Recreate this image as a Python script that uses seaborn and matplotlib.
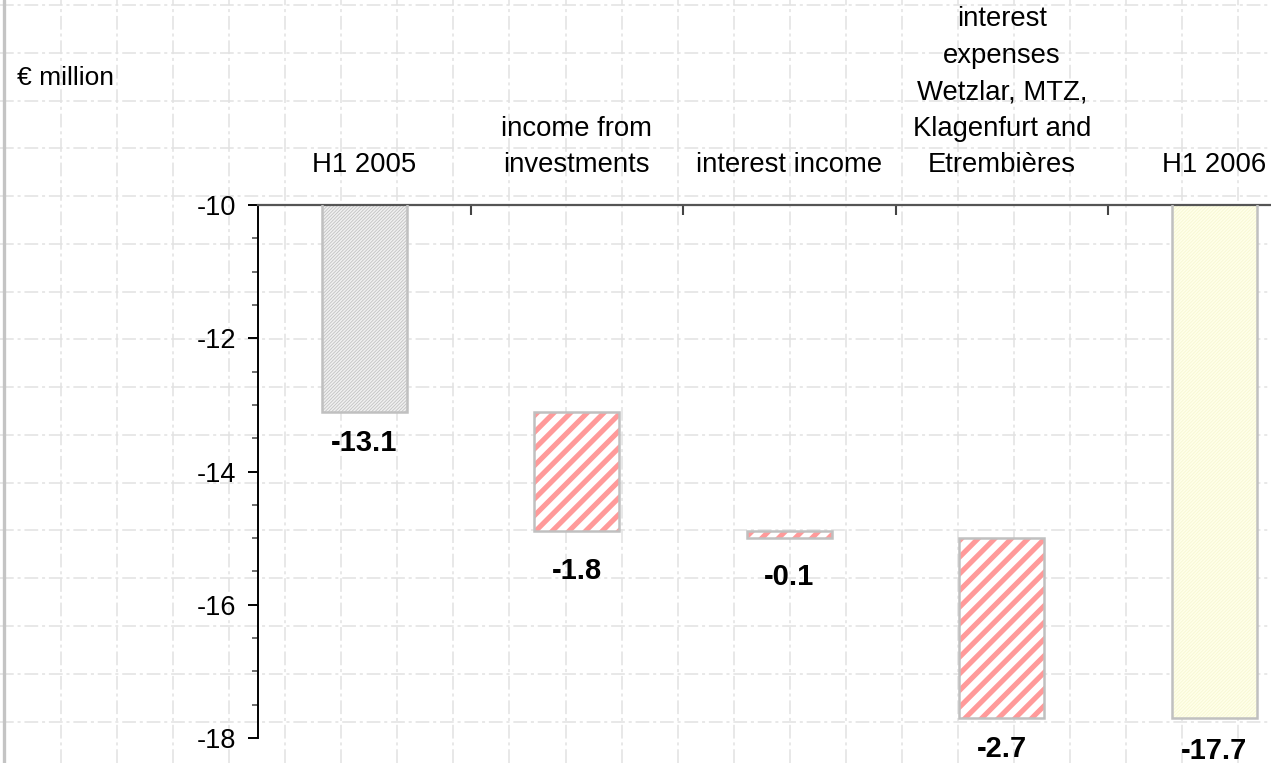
import numpy as np
import pandas as pd
import matplotlib
matplotlib.use("Agg")
import matplotlib.pyplot as plt
from matplotlib.ticker import MultipleLocator, FixedLocator
import seaborn as sns

# ---- data -------------------------------------------------------------
categories = [
    "H1 2005",
    "income from\ninvestments",
    "interest income",
    "interest\nexpenses\nWetzlar, MTZ,\nKlagenfurt and\nEtrembières",
    "H1 2006",
]
changes = [-13.1, -1.8, -0.1, -2.7, -17.7]
kinds = ["total", "delta", "delta", "delta", "total"]
y_ticks = [-18, -16, -14, -12, -10]
unit_label = "€ million"

# ---- style ------------------------------------------------------------
sns.set_theme(style="white")
plt.rcParams["font.family"] = ["Liberation Sans", "DejaVu Sans"]
FS_CAT = 19.8
FS_TICK = 19.5
FS_UNIT = 19
FS_VAL = 21

# totals start at zero, changes start where the running total stands
bottoms = []
running = 0.0
for v, k in zip(changes, kinds):
    if k == "total":
        bottoms.append(0.0)
        running = v
    else:
        bottoms.append(round(running, 2))
        running = round(running + v, 2)

df = pd.DataFrame({"category": categories, "change": changes})

W, H = 1271, 763
fig = plt.figure(figsize=(W / 100, H / 100), dpi=100)
fig.patch.set_facecolor("white")

# sheet grid behind the chart
bg = fig.add_axes([0, 0, 1, 1])
bg.set_xlim(0, W)
bg.set_ylim(H, 0)
bg.axis("off")
grid_style = dict(color="#e2e2e2", lw=1.1, ls=(0, (9, 2.5, 2, 2.5)))
for gx in np.arange(5, W, 56.05):
    bg.axvline(gx, **grid_style)
for gy in np.arange(5, H, 47.77):
    bg.axhline(gy, **grid_style)
bg.axvline(4, color="#c4c4c4", lw=2.4)

# chart area (runs past the right edge of the sheet)
ax = fig.add_axes([258 / W, 1 - 738 / H, 1062.5 / W, 533 / H])
ax.set_facecolor("none")

sns.barplot(data=df, x="category", y="change", bottom=bottoms, width=0.4,
            errorbar=None, ax=ax, color="white", linewidth=0)
fills = list(ax.patches)
sns.barplot(data=df, x="category", y="change", bottom=bottoms, width=0.4,
            errorbar=None, ax=ax, color="white", fill=False, linewidth=1.8)
outlines = [p for p in ax.patches if p not in fills]

bar_styles = [
    dict(face="#f0f0f0", hatch="//////////", hcolor="#c2c2c2", hlw=0.6),
    dict(face="white", hatch="//", hcolor="#ff9a9a", hlw=3.7),
    dict(face="white", hatch="//", hcolor="#ff9a9a", hlw=3.7),
    dict(face="white", hatch="//", hcolor="#ff9a9a", hlw=3.7),
    dict(face="#ffffea", hatch="//////////", hcolor="#f8f8d2", hlw=0.6),
]
for p, st in zip(fills, bar_styles):
    p.set_facecolor(st["face"])
    p.set_edgecolor(st["hcolor"])
    p.set_linewidth(0)
    p.set_hatch(st["hatch"])
    if hasattr(p, "set_hatch_linewidth"):
        p.set_hatch_linewidth(st["hlw"])
for p in outlines:
    p.set_edgecolor("#c0c0c0")
    p.set_facecolor("none")
    p.set_linewidth(1.8)
    p.set_zorder(3)

# value labels under each bar end
label_offsets_px = [31, 40, 39, 31, 33]
for i, (b, v, off) in enumerate(zip(bottoms, changes, label_offsets_px)):
    ax.annotate(f"{v:.1f}", (i, b + v), xytext=(0, -off * 0.72),
                textcoords="offset points", ha="center", va="center",
                fontsize=FS_VAL, fontweight="bold", color="black",
                annotation_clip=False)

# axes
ax.set_ylim(-18, -10)
ax.set_xlim(-0.5, 4.5)
ax.set_yticks(y_ticks)
ax.set_yticklabels([f"{t:d}" for t in y_ticks], fontsize=FS_TICK)
ax.yaxis.set_minor_locator(MultipleLocator(0.5))
ax.tick_params(axis="y", which="major", left=True, length=7.2, width=1.4,
               color="black", pad=8.6, labelcolor="black")
ax.tick_params(axis="y", which="minor", left=True, length=4.3, width=1.2,
               color="#555555")

ax.xaxis.tick_top()
ax.set_xticks(range(len(categories)))
ax.set_xticklabels(categories, fontsize=FS_CAT, multialignment="center",
                   linespacing=1.52)
ax.xaxis.set_minor_locator(FixedLocator(np.arange(0.5, len(categories), 1.0)))
ax.tick_params(axis="x", which="major", top=True, bottom=False, length=0,
               pad=19.5, labeltop=True, labelbottom=False, labelcolor="black")
ax.tick_params(axis="x", which="minor", top=True, bottom=False,
               direction="in", length=7.5, width=1.5, color="#444444")
ax.set_xlabel("")
ax.set_ylabel("")

for side in ("right", "bottom"):
    ax.spines[side].set_visible(False)
ax.spines["left"].set_color("black")
ax.spines["left"].set_linewidth(1.4)
ax.spines["top"].set_color("#555555")
ax.spines["top"].set_linewidth(1.6)

fig.text(17 / W, 1 - 78 / H, unit_label, ha="left", va="center",
         fontsize=FS_UNIT, color="black")

fig.savefig("out.png", dpi=100)
